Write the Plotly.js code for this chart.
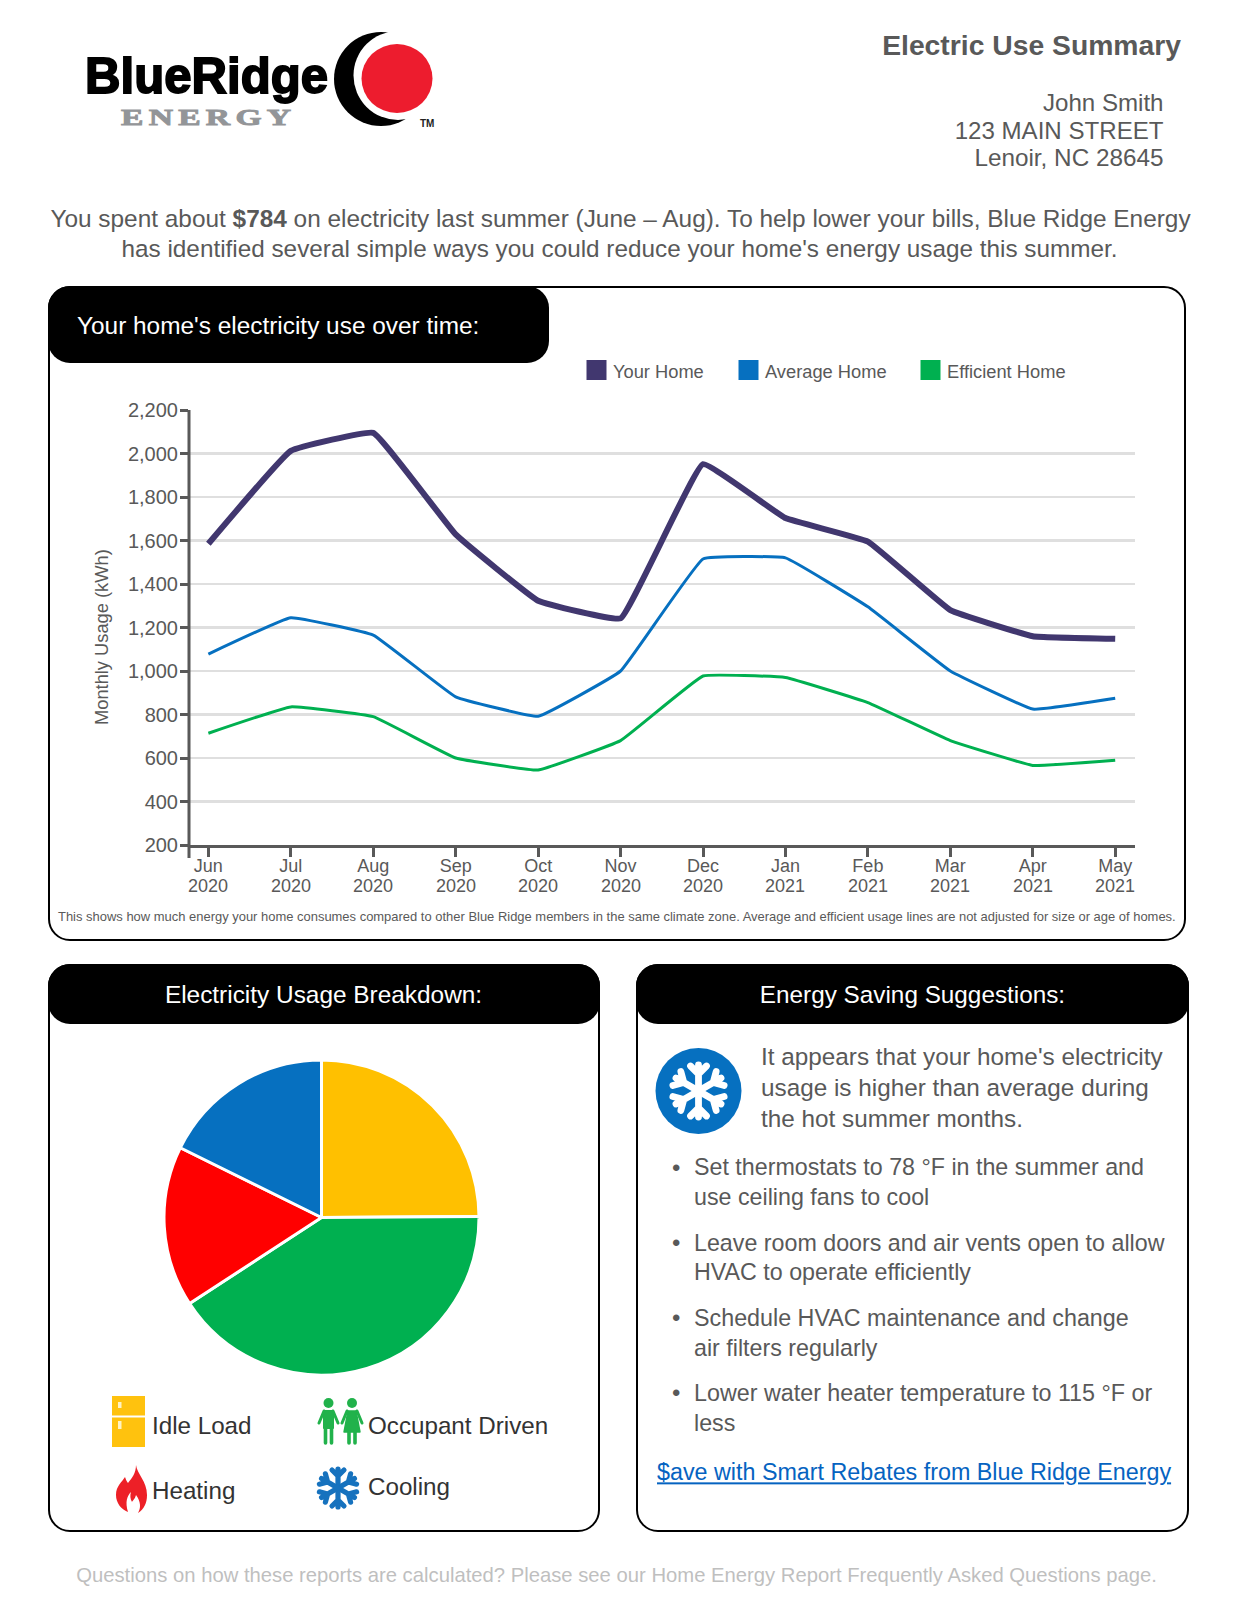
<!DOCTYPE html>
<html><head><meta charset="utf-8">
<script src="https://cdn.plot.ly/plotly-3.0.1.min.js"></script>
<style>
html,body{margin:0;padding:0;background:#fff;}
body{position:relative;width:1237px;height:1602px;overflow:hidden;font-family:"Liberation Sans",Arial,sans-serif;color:#595959;}
.t{position:absolute;white-space:nowrap;transform:translateY(-50%);line-height:1;}
.r{transform:translate(-100%,-50%);text-align:right;}
.c{transform:translate(-50%,-50%);text-align:center;}
.panel{position:absolute;box-sizing:border-box;border:2px solid #000;border-radius:22px;background:#fff;}
.head{position:absolute;background:#000;border-radius:22px;}
.w{color:#fff;}
svg.ic{position:absolute;overflow:visible;left:0;top:0;}
#line,#pie{position:absolute;}
a{color:#0563c1;text-decoration:underline;}
</style></head><body>
<div class="panel" style="left:48px;top:286px;width:1138px;height:655px"></div>
<div class="panel" style="left:48px;top:964px;width:552px;height:568px"></div>
<div class="panel" style="left:636px;top:964px;width:553px;height:568px"></div>
<div id="line" style="left:48px;top:287px;width:1138px;height:654px"></div>
<div class="head" style="left:48px;top:286px;width:501px;height:77px"></div>
<div class="head" style="left:48px;top:964px;width:552px;height:60px"></div>
<div class="head" style="left:636px;top:964px;width:553px;height:60px"></div>
<div id="pie" style="left:164px;top:1060px;width:314.5px;height:314.5px"></div>

<svg class="ic" width="1237" height="1602">
  <text x="85" y="93" font-family="Liberation Sans" font-weight="700" font-size="50" fill="#000" stroke="#000" stroke-width="1.8" textLength="243" lengthAdjust="spacingAndGlyphs">BlueRidge</text>
  <text transform="translate(121 125) scale(1.4 1)" font-family="Liberation Serif" font-weight="700" font-size="24" fill="#939598" stroke="#939598" stroke-width=".9" textLength="121.5" lengthAdjust="spacing">ENERGY</text>
  <circle cx="381" cy="79" r="47" fill="#000"/>
  <circle cx="398" cy="75.5" r="44.5" fill="#fff"/>
  <ellipse cx="397" cy="78.5" rx="35.5" ry="34.5" fill="#ed1c2e"/>
  <text x="420" y="127" font-family="Liberation Sans" font-weight="700" font-size="10" fill="#222">TM</text>

  <!-- fridge -->
  <rect x="112" y="1396" width="33" height="19.5" fill="#ffc20e"/><rect x="112" y="1417.5" width="33" height="29.5" fill="#ffc20e"/>
  <rect x="118" y="1402" width="3.5" height="6" fill="#fff3c4"/><rect x="118" y="1421" width="3.5" height="8" fill="#fff3c4"/>
  <!-- people -->
  <g fill="#21b24b" stroke="#21b24b" stroke-linecap="round" stroke-linejoin="round">
    <circle cx="328.5" cy="1403" r="5" stroke="none"/><circle cx="352" cy="1403" r="5" stroke="none"/>
    <path d="M324 1411h9v17h-9z" stroke-width="2"/>
    <path d="M324 1411l-5 12M333 1411l5 12" fill="none" stroke-width="3"/>
    <path d="M325.5 1426v17M331.5 1426v17" fill="none" stroke-width="3.6"/>
    <path d="M348 1411h8l4 21h-16z" stroke-width="1.4"/>
    <path d="M347 1411l-5 12M357 1411l5 12" fill="none" stroke-width="3"/>
    <path d="M349 1432v11M355 1432v11" fill="none" stroke-width="3.6"/>
  </g>
  <!-- flame -->
  <path d="M136 1465c1 9 11 16 11 30c0 8-3 14-9 18c3-5 3-11-2-18c-1 4-3 5-4 7c-2-3-2-7-1-10c-4 4-6 10-3 20c-7-3-12-9-12-17c0-9 6-13 9-18c1 3 2 5 3 6c4-5 8-10 8-18z" fill="#ed2027"/>
  <!-- snowflakes -->
  <g fill="none" stroke="#1672be" stroke-width="5.2" stroke-linecap="round" stroke-linejoin="round" transform="translate(338 1488)">
    <path d="M0 0V-19M-6 -18L0 -12L6 -18"/>
    <path transform="rotate(60)" d="M0 0V-19M-6 -18L0 -12L6 -18"/>
    <path transform="rotate(120)" d="M0 0V-19M-6 -18L0 -12L6 -18"/>
    <path transform="rotate(180)" d="M0 0V-19M-6 -18L0 -12L6 -18"/>
    <path transform="rotate(240)" d="M0 0V-19M-6 -18L0 -12L6 -18"/>
    <path transform="rotate(300)" d="M0 0V-19M-6 -18L0 -12L6 -18"/>
  </g>
  <circle cx="698.5" cy="1091" r="43" fill="#0670c0"/>
  <g fill="none" stroke="#fff" stroke-width="6.8" stroke-linecap="round" stroke-linejoin="round" transform="translate(698.5 1091)">
    <path d="M0 0V-26M-8 -25L0 -17L8 -25"/>
    <path transform="rotate(60)" d="M0 0V-26M-8 -25L0 -17L8 -25"/>
    <path transform="rotate(120)" d="M0 0V-26M-8 -25L0 -17L8 -25"/>
    <path transform="rotate(180)" d="M0 0V-26M-8 -25L0 -17L8 -25"/>
    <path transform="rotate(240)" d="M0 0V-26M-8 -25L0 -17L8 -25"/>
    <path transform="rotate(300)" d="M0 0V-26M-8 -25L0 -17L8 -25"/>
  </g>
</svg>

<div class="t r" style="left:1181px;top:45px;font-size:28.3px;font-weight:700">Electric Use Summary</div>
<div class="t r" style="left:1163.5px;top:103px;font-size:24.1px">John Smith</div>
<div class="t r" style="left:1163.5px;top:131px;font-size:24.1px">123 MAIN STREET</div>
<div class="t r" style="left:1163.5px;top:158px;font-size:24.3px">Lenoir, NC 28645</div>
<div class="t c" style="left:620.5px;top:219px;font-size:24.4px">You spent about <b>$784</b> on electricity last summer (June – Aug). To help lower your bills, Blue Ridge Energy</div>
<div class="t c" style="left:619.5px;top:249px;font-size:24.3px">has identified several simple ways you could reduce your home's energy usage this summer.</div>

<div class="t w" style="left:77px;top:325.5px;font-size:24.4px">Your home's electricity use over time:</div>
<div class="t c w" style="left:323.5px;top:995px;font-size:24.4px">Electricity Usage Breakdown:</div>
<div class="t c w" style="left:912.5px;top:995px;font-size:24.3px">Energy Saving Suggestions:</div>

<div class="t" style="left:58px;top:917px;font-size:12.96px">This shows how much energy your home consumes compared to other Blue Ridge members in the same climate zone. Average and efficient usage lines are not adjusted for size or age of homes.</div>

<div class="t" style="left:152px;top:1426px;font-size:24.2px;color:#333">Idle Load</div>
<div class="t" style="left:368px;top:1426px;font-size:24.2px;color:#333">Occupant Driven</div>
<div class="t" style="left:152px;top:1491px;font-size:24.2px;color:#333">Heating</div>
<div class="t" style="left:368px;top:1487px;font-size:24.2px;color:#333">Cooling</div>

<div class="t" style="left:761px;top:1057px;font-size:24.3px">It appears that your home's electricity</div>
<div class="t" style="left:761px;top:1088px;font-size:24.3px">usage is higher than average during</div>
<div class="t" style="left:761px;top:1119px;font-size:24.3px">the hot summer months.</div>

<div class="t" style="left:672px;top:1168px;font-size:24px">•</div>
<div class="t" style="left:694px;top:1168px;font-size:23.25px">Set thermostats to 78 °F in the summer and</div>
<div class="t" style="left:694px;top:1198px;font-size:23.25px">use ceiling fans to cool</div>
<div class="t" style="left:672px;top:1243px;font-size:24px">•</div>
<div class="t" style="left:694px;top:1244px;font-size:23.25px">Leave room doors and air vents open to allow</div>
<div class="t" style="left:694px;top:1273px;font-size:23.25px">HVAC to operate efficiently</div>
<div class="t" style="left:672px;top:1318px;font-size:24px">•</div>
<div class="t" style="left:694px;top:1319px;font-size:23.3px">Schedule HVAC maintenance and change</div>
<div class="t" style="left:694px;top:1349px;font-size:23.25px">air filters regularly</div>
<div class="t" style="left:672px;top:1393px;font-size:24px">•</div>
<div class="t" style="left:694px;top:1394px;font-size:23.3px">Lower water heater temperature to 115 °F or</div>
<div class="t" style="left:694px;top:1424px;font-size:23.25px">less</div>
<div class="t" style="left:657px;top:1473px;font-size:23.3px"><a href="#">$ave with Smart Rebates from Blue Ridge Energy</a></div>
<div class="t c" style="left:616.5px;top:1575px;font-size:20.25px;color:#bfbfbf">Questions on how these reports are calculated? Please see our Home Energy Report Frequently Asked Questions page.</div>

<script>
const months = ["Jun","Jul","Aug","Sep","Oct","Nov","Dec","Jan","Feb","Mar","Apr","May"];
const years = ["2020","2020","2020","2020","2020","2020","2020","2021","2021","2021","2021","2021"];
const yourHome = [1585,2012,2095,1628,1323,1242,1951,1703,1595,1280,1160,1148];
const averageHome = [1078,1245,1165,881,792,1000,1515,1520,1295,1000,825,875];
const efficientHome = [714,835,790,600,545,680,977,970,855,680,566,590];
const seriesNames = ["Your Home","Average Home","Efficient Home"];
const seriesColors = ["#41376f","#0670c0","#00b050"];
const pieLabels = ["Idle Load","Occupant Driven","Heating","Cooling"];
const pieValues = [24.9,40.9,16.5,17.7];
const pieColors = ["#ffc000","#00b050","#ff0000","#0670c0"];

const font = {family:'"Liberation Sans",Arial,sans-serif',color:"#595959"};
const W=1138,H=654,mL=141,mR=51,mT=123,mB=96;
const px=x=>(x-mL)/(W-mL-mR), py=y=>1-(y-mT)/(H-mT-mB);

const traces=[yourHome,averageHome,efficientHome].map((v,i)=>({
  type:"scatter",mode:"lines",name:seriesNames[i],x:months,y:v,
  line:{color:seriesColors[i],width:i===0?6:3,shape:"spline",smoothing:0.25},
  hoverinfo:"none"
})).reverse();

const legendX=[538.5,690.5,872.5];
const shapes=[
  {type:"line",xref:"paper",yref:"paper",x0:0,x1:0,y0:py(mT),y1:py(H-mB+13),line:{color:"#595959",width:3}}
];
const annotations=[];
seriesNames.forEach((n,i)=>{
  shapes.push({type:"rect",xref:"paper",yref:"paper",x0:px(legendX[i]),x1:px(legendX[i]+20),
    y0:py(73),y1:py(93),fillcolor:seriesColors[i],line:{width:0}});
  annotations.push({xref:"paper",yref:"paper",x:px(legendX[i]+24),y:py(84),xanchor:"left",yanchor:"middle",
    text:n,showarrow:false,font:{...font,size:18.3}});
});
years.forEach((y,i)=>{
  annotations.push({xref:"x",yref:"paper",x:months[i],y:py(598.5),xanchor:"center",yanchor:"middle",
    text:y,showarrow:false,font:{...font,size:18}});
});
annotations.push({xref:"paper",yref:"paper",x:px(53),y:py(350),xanchor:"center",yanchor:"middle",textangle:-90,
  text:"Monthly Usage (kWh)",showarrow:false,font:{...font,size:18.3}});

Plotly.newPlot("line",traces,{
  width:W,height:H,autosize:false,showlegend:false,
  margin:{l:mL,r:mR,t:mT,b:mB,pad:0},
  paper_bgcolor:"rgba(0,0,0,0)",plot_bgcolor:"rgba(0,0,0,0)",font:{...font,size:18},
  xaxis:{type:"category",categoryarray:months,range:[-0.235,11.24],showgrid:false,showline:true,linecolor:"#595959",linewidth:3,
    ticks:"outside",ticklen:9,tickwidth:3,tickcolor:"#595959",tickangle:0,tickfont:{...font,size:18},ticklabelstandoff:-7,zeroline:false,fixedrange:true},
  yaxis:{range:[200,2200],dtick:200,tickformat:",d",gridcolor:"#dfdfdf",gridwidth:2.5,showline:false,
    ticks:"outside",ticklen:8,tickwidth:3,tickcolor:"#595959",tickfont:{...font,size:20},ticklabelstandoff:-2,zeroline:false,fixedrange:true},
  shapes,annotations
},{displayModeBar:false,staticPlot:true});

Plotly.newPlot("pie",[{
  type:"pie",labels:pieLabels,values:pieValues,sort:false,direction:"clockwise",rotation:0,
  marker:{colors:pieColors,line:{color:"#fff",width:3}},textinfo:"none",hoverinfo:"none"
}],{width:314.5,height:314.5,autosize:false,margin:{l:0,r:0,t:0,b:0},showlegend:false,paper_bgcolor:"rgba(0,0,0,0)"},
{displayModeBar:false,staticPlot:true});
</script>
</body></html>
